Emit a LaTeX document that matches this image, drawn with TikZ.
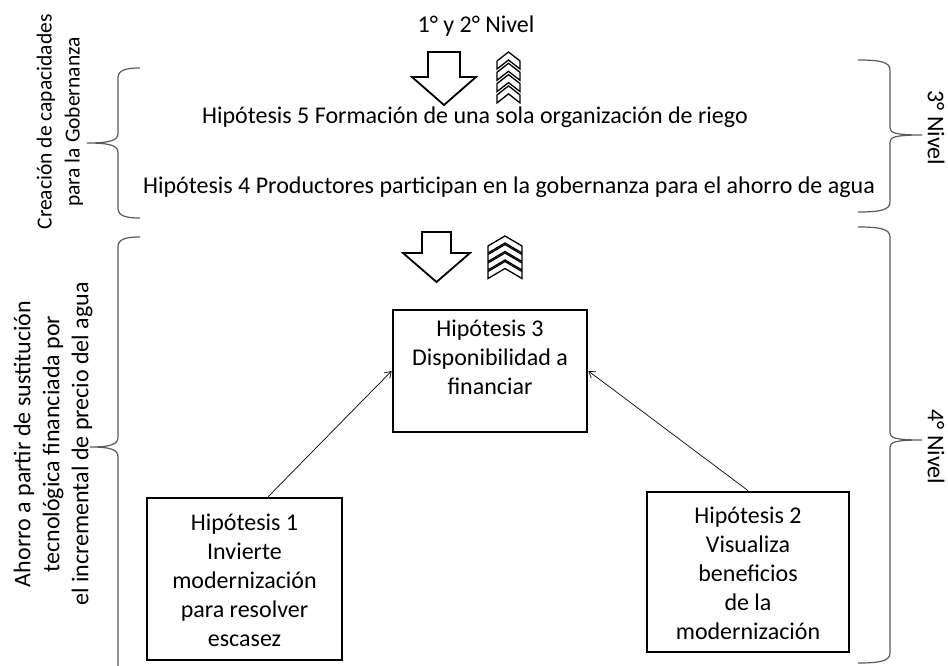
\documentclass[tikz,border=0pt]{standalone}
\usepackage{fontspec}
\setmainfont{Carlito}
\usetikzlibrary{arrows.meta,calc}
\definecolor{braceGray}{RGB}{90,90,90}
\begin{document}
\begin{tikzpicture}[x=1pt,y=-1pt,
  every node/.style={font=\fontsize{24}{29}\selectfont, inner sep=0pt},
  para/.style={text width=#1, align=flush center},
  hbox/.style={draw, line width=2.8pt, inner sep=0pt},
  bracepath/.style={draw=braceGray, line width=1.2pt},
  outline/.style={draw, line width=1.8pt, fill=white, line join=miter},
  chev/.style={draw, line width=1.3pt, fill=white, line join=miter},
  link/.style={line width=0.7pt, -{Straight Barb[length=6pt,width=8pt]}}]
\useasboundingbox (0,0) rectangle (948,666);
\clip (0,0) rectangle (948,666);

% title and top texts
\node (t12) at (476,26) {1° y 2° Nivel};
\node (t5) at (475,117) {Hipótesis 5 Formación de una sola organización de riego};
\node (t4) at (509,187) {Hipótesis 4 Productores participan en la gobernanza para el ahorro de agua};

% down arrows
\draw[outline] (428,52) -- (460,52) -- (460,77) -- (476,77) -- (444,105) -- (412,77) -- (428,77) -- cycle;
\draw[outline] (422,232) -- (451,232) -- (451,253) -- (470,253) -- (436.5,282) -- (403,253) -- (422,253) -- cycle;

% chevrons upper
\foreach \i in {3,2,1,0}{
  \pgfmathsetmacro{\a}{52+\i*11.3}
  \draw[chev] (497,\a+9) -- (508.5,\a) -- (520,\a+9) -- (520,\a+17) -- (508.5,\a+8) -- (497,\a+17) -- cycle;
}
% chevrons lower
\foreach \i in {3,2,1,0}{
  \pgfmathsetmacro{\a}{236+\i*8.5}
  \draw[chev] (488,\a+10) -- (505,\a) -- (522,\a+10) -- (522,\a+17) -- (505,\a+7) -- (488,\a+17) -- cycle;
}

% boxes
\node[hbox, minimum width=194pt, minimum height=122pt] (h3) at (490,371) {};
\node[para=190pt] (t3) at (490,357) {Hipótesis 3\\Disponibilidad a\\financiar};
\node[hbox, minimum width=195pt, minimum height=162pt] (h1) at (244.5,579) {};
\node[para=190pt] (t1) at (244.5,580) {Hipótesis 1\\Invierte\\modernización\\para resolver\\escasez};
\node[hbox, minimum width=202pt, minimum height=160pt] (h2) at (748,572) {};
\node[para=196pt] (t2) at (748,573) {Hipótesis 2\\Visualiza\\beneficios\\de la\\modernización};

\draw[link] ($(h1.north west)!0.62!(h1.north east)$) -- (h3.west);
\draw[link] (h2.north) -- (h3.east);

% left braces
\draw[bracepath] (140,68) .. controls (126,68) and (118,70) .. (118,78) -- (118,133)
  .. controls (118,140) and (112,143) .. (87,143)
  .. controls (112,143) and (118,146) .. (118,153) -- (118,208)
  .. controls (118,216) and (126,218) .. (140,218);
\draw[bracepath] (140,237) .. controls (126,237) and (118,239) .. (118,247) -- (118,437)
  .. controls (118,444) and (112,447) .. (90,447)
  .. controls (112,447) and (118,450) .. (118,457) -- (118,668)
  .. controls (118,676) and (126,678) .. (140,678);

% right braces
\draw[bracepath] (858,60) .. controls (880,60) and (890,62) .. (890,70) -- (890,128)
  .. controls (890,133) and (896,135) .. (922,135)
  .. controls (896,135) and (890,137) .. (890,142) -- (890,202)
  .. controls (890,210) and (880,212) .. (858,212);
\draw[bracepath] (858,227) .. controls (880,227) and (890,229) .. (890,237) -- (890,433)
  .. controls (890,438) and (896,440) .. (922,440)
  .. controls (896,440) and (890,442) .. (890,447) -- (890,653)
  .. controls (890,661) and (880,663) .. (858,663);

% side labels
\node[rotate=-90] (n3) at (936,128) {3° Nivel};
\node[rotate=-90] (n4) at (936,447) {4° Nivel};
\node[rotate=90, para=300pt, font=\fontsize{21.5}{28}\selectfont] (lc) at (60,122) {Creación de capacidades\\para la Gobernanza};
\node[rotate=90, para=420pt] (la) at (53,444) {Ahorro a partir de sustitución\\tecnológica financiada por\\el incremental de precio del agua};
\end{tikzpicture}
\end{document}
